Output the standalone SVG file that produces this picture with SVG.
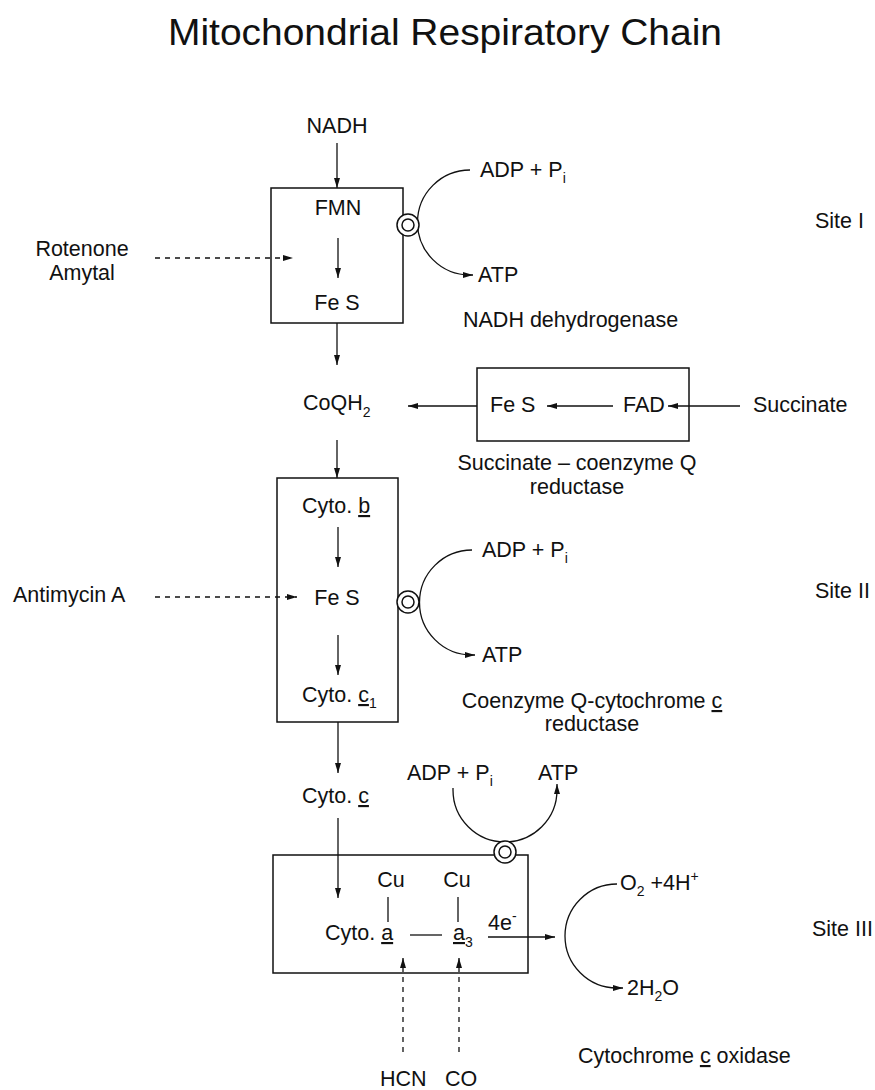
<svg xmlns="http://www.w3.org/2000/svg" width="875" height="1090" viewBox="0 0 875 1090">
<style>
text { font-family: "Liberation Sans", Arial, Helvetica, sans-serif; font-size: 21.5px; fill: #111; }
.title { font-size: 37px; }
.sub { font-size: 14px; }
.u { text-decoration: underline; }
.ln { stroke: #111; stroke-width: 1.3; fill: none; }
.dash { stroke-dasharray: 5 5; }
.box { stroke: #111; stroke-width: 1.5; fill: none; }
.ring { stroke: #111; stroke-width: 1.5; fill: #fff; }
</style>
<defs>
<marker id="ah" viewBox="0 0 10 6" refX="10" refY="3" markerWidth="10" markerHeight="6" markerUnits="userSpaceOnUse" orient="auto">
<path d="M0,0 L10,3 L0,6 z" fill="#111"/>
</marker>
</defs>
<rect width="875" height="1090" fill="#fff"/>
<text class="title" x="445" y="45" text-anchor="middle" textLength="554" lengthAdjust="spacingAndGlyphs">Mitochondrial Respiratory Chain</text>

<g id="connectors">
<line class="ln" x1="337" y1="143" x2="337" y2="188" marker-end="url(#ah)"/>
<line class="ln" x1="338" y1="238" x2="338" y2="278" marker-end="url(#ah)"/>
<line class="ln" x1="337" y1="323" x2="337" y2="365" marker-end="url(#ah)"/>
<line class="ln dash" x1="155" y1="258" x2="293" y2="258" marker-end="url(#ah)"/>
<path class="ln" d="M470,170 A52.5,52.5 0 0 0 470,275 L473,275" marker-end="url(#ah)"/>
<line class="ln" x1="477" y1="406" x2="408" y2="406" marker-end="url(#ah)"/>
<line class="ln" x1="613" y1="406" x2="547" y2="406" marker-end="url(#ah)"/>
<line class="ln" x1="740" y1="406" x2="668" y2="406" marker-end="url(#ah)"/>
<line class="ln" x1="337" y1="440" x2="337" y2="478" marker-end="url(#ah)"/>
<line class="ln" x1="338" y1="527" x2="338" y2="567" marker-end="url(#ah)"/>
<line class="ln dash" x1="155" y1="597" x2="297" y2="597" marker-end="url(#ah)"/>
<path class="ln" d="M472,550 A52.5,52.5 0 0 0 472,655 L475,655" marker-end="url(#ah)"/>
<line class="ln" x1="338" y1="635" x2="338" y2="675" marker-end="url(#ah)"/>
<line class="ln" x1="338" y1="722" x2="338" y2="773" marker-end="url(#ah)"/>
<path class="ln" d="M453,788 L453,790 A52,52 0 0 0 557,790 L557,784" marker-end="url(#ah)"/>
<line class="ln" x1="338" y1="818" x2="338" y2="898" marker-end="url(#ah)"/>
<line class="ln" x1="488" y1="937" x2="555" y2="937" marker-end="url(#ah)"/>
<line class="ln dash" x1="403" y1="1052" x2="403" y2="958" marker-end="url(#ah)"/>
<line class="ln dash" x1="459" y1="1052" x2="459" y2="958" marker-end="url(#ah)"/>
<path class="ln" d="M617,884 A52,52 0 0 0 617,988 L623,988" marker-end="url(#ah)"/>
</g>

<g id="nadh"><text x="337" y="133" text-anchor="middle">NADH</text></g>
<g id="complex1">
<rect class="box" x="271" y="188" width="132" height="135"/>
<text x="338" y="215" text-anchor="middle">FMN</text>
<text x="337" y="310" text-anchor="middle">Fe S</text>
<circle class="ring" cx="408" cy="225" r="11"/>
<circle class="ring" cx="408" cy="225" r="6"/>
</g>
<g id="atp1">
<text x="480" y="177">ADP + P<tspan class="sub" dy="6">i</tspan></text>
<text x="478" y="282">ATP</text>
</g>
<g id="label1"><text x="463" y="327">NADH dehydrogenase</text></g>
<g id="site1"><text x="815" y="228">Site I</text></g>
<g id="rotenone">
<text x="82" y="256" text-anchor="middle">Rotenone</text>
<text x="82" y="280" text-anchor="middle">Amytal</text>
</g>

<g id="coqh2"><text x="303" y="410">CoQH<tspan class="sub" dy="7">2</tspan></text></g>
<g id="complex2s">
<rect class="box" x="477" y="368" width="212" height="73"/>
<text x="490" y="412">Fe S</text>
<text x="623" y="412">FAD</text>
</g>
<g id="succinate"><text x="753" y="412">Succinate</text></g>
<g id="label2s">
<text x="577" y="470" text-anchor="middle">Succinate – coenzyme Q</text>
<text x="577" y="494" text-anchor="middle">reductase</text>
</g>

<g id="complex3">
<rect class="box" x="277" y="478" width="121" height="244"/>
<text x="302" y="513">Cyto. <tspan class="u">b</tspan></text>
<text x="337" y="605" text-anchor="middle">Fe S</text>
<text x="302" y="702">Cyto. <tspan class="u">c</tspan><tspan class="sub" dy="6">1</tspan></text>
<circle class="ring" cx="408" cy="602" r="11"/>
<circle class="ring" cx="408" cy="602" r="6"/>
</g>
<g id="antimycin"><text x="13" y="602">Antimycin A</text></g>
<g id="atp2">
<text x="482" y="557">ADP + P<tspan class="sub" dy="6">i</tspan></text>
<text x="482" y="662">ATP</text>
</g>
<g id="site2"><text x="815" y="598">Site II</text></g>
<g id="label3">
<text x="592" y="708" text-anchor="middle">Coenzyme Q-cytochrome <tspan class="u">c</tspan></text>
<text x="592" y="731" text-anchor="middle">reductase</text>
</g>

<g id="cytoc"><text x="302" y="803">Cyto. <tspan class="u">c</tspan></text></g>
<g id="atp3">
<text x="407" y="780">ADP + P<tspan class="sub" dy="6">i</tspan></text>
<text x="538" y="780">ATP</text>
</g>
<g id="complex4">
<rect class="box" x="273" y="855" width="255" height="118"/>
<circle class="ring" cx="505" cy="852" r="11"/>
<circle class="ring" cx="505" cy="852" r="6"/>
<text x="391" y="887" text-anchor="middle">Cu</text>
<text x="457" y="887" text-anchor="middle">Cu</text>
<line class="ln" x1="388" y1="897" x2="388" y2="922"/>
<line class="ln" x1="458" y1="897" x2="458" y2="922"/>
<text x="325" y="940">Cyto. <tspan class="u">a</tspan></text>
<line class="ln" x1="410" y1="935" x2="442" y2="935"/>
<text x="453" y="940"><tspan class="u">a</tspan><tspan class="sub" dy="7">3</tspan></text>
<text x="488" y="930">4e<tspan class="sub" dy="-9">-</tspan></text>
</g>
<g id="inhibitors4">
<text x="380" y="1086">HCN</text>
<text x="445" y="1086">CO</text>
</g>
<g id="oxygen">
<text x="620" y="890">O<tspan class="sub" dy="6">2</tspan><tspan dy="-6"> +4H</tspan><tspan class="sub" dy="-9">+</tspan></text>
<text x="627" y="995">2H<tspan class="sub" dy="6">2</tspan><tspan dy="-6">O</tspan></text>
</g>
<g id="site3"><text x="812" y="936">Site III</text></g>
<g id="label4"><text x="578" y="1063">Cytochrome <tspan class="u">c</tspan> oxidase</text></g>
</svg>
